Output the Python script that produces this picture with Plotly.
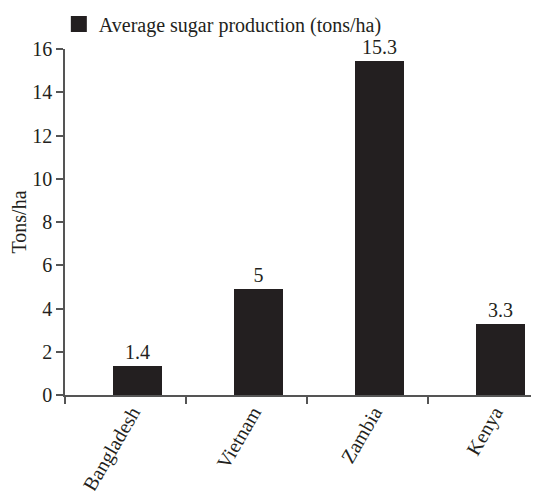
import plotly.graph_objects as go

countries = ["Bangladesh", "Vietnam", "Zambia", "Kenya"]
bar_heights = [1.35, 4.9, 15.45, 3.3]
bar_labels = ["1.4", "5", "15.3", "3.3"]
y_ticks = [0, 2, 4, 6, 8, 10, 12, 14, 16]
legend_name = "Average sugar production (tons/ha)"
y_title = "Tons/ha"

INK = "#231f20"
AX = "#555555"
FONT = "Liberation Serif, Times New Roman, serif"

pos = [i + 0.6 for i in range(len(countries))]
label_pos = [p - 0.045 for p in pos]
bounds = list(range(len(countries)))

fig = go.Figure()
fig.add_trace(go.Bar(
    x=pos, y=bar_heights, width=0.405,
    marker=dict(color=INK, line=dict(width=0)),
    text=bar_labels, textposition="outside", cliponaxis=False,
    textfont=dict(family=FONT, size=20, color=INK),
    showlegend=False,
))
fig.add_trace(go.Scatter(
    x=[None], y=[None], mode="markers", name=legend_name,
    marker=dict(symbol="square", size=16, color=INK),
    xaxis="x2",
))

fig.update_layout(
    width=539, height=491,
    margin=dict(l=57, r=8, t=41, b=104, autoexpand=False),
    paper_bgcolor="white", plot_bgcolor="white",
    font=dict(family=FONT, size=20, color=INK),
    bargap=0,
    xaxis=dict(
        range=[0, 3.92], tickvals=label_pos, ticktext=countries,
        tickangle=-60, ticks="", showline=True, linecolor=AX, linewidth=1.5,
        showgrid=False, zeroline=False, automargin=False, ticklabelstandoff=-4,
        tickfont=dict(family=FONT, size=20, color=INK),
    ),
    xaxis2=dict(
        range=[0, 3.92], overlaying="x", anchor="y", side="bottom",
        tickvals=bounds, ticks="outside", ticklen=8, tickcolor=AX, tickwidth=1.5,
        showticklabels=False, showline=False, showgrid=False, zeroline=False,
        automargin=False,
    ),
    yaxis=dict(
        range=[0, 16], tickvals=y_ticks, ticks="outside", ticklen=7,
        tickcolor=AX, tickwidth=1.5, showline=True, linecolor=AX, linewidth=1.5,
        showgrid=False, zeroline=False, automargin=False,
        title=dict(text=y_title, font=dict(family=FONT, size=20, color=INK), standoff=0),
        tickfont=dict(family=FONT, size=20, color=INK),
    ),
    legend=dict(
        x=-0.013, y=1.072, xanchor="left", yanchor="middle",
        orientation="h", font=dict(family=FONT, size=20, color=INK),
        bgcolor="rgba(0,0,0,0)", itemwidth=30,
    ),
)
fig.write_html("out.html")
